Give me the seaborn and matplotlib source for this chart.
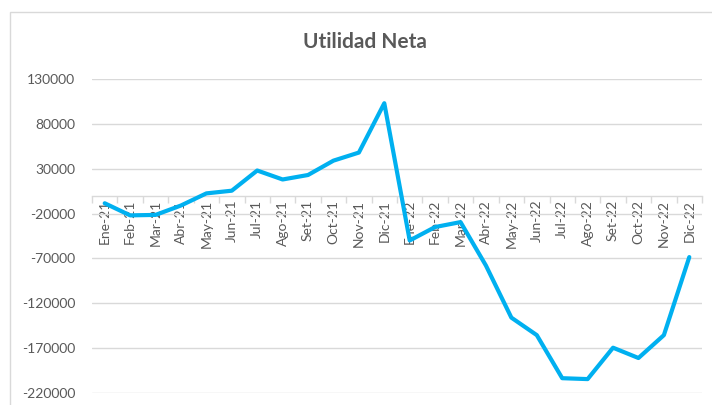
import matplotlib
matplotlib.use("Agg")
import matplotlib.pyplot as plt
import seaborn as sns
import numpy as np
import pandas as pd
from matplotlib.patches import Rectangle
from matplotlib.ticker import FixedLocator

months = ["Ene-21", "Feb-21", "Mar-21", "Abr-21", "May-21", "Jun-21", "Jul-21", "Ago-21",
          "Set-21", "Oct-21", "Nov-21", "Dic-21", "Ene-22", "Feb-22", "Mar-22", "Abr-22",
          "May-22", "Jun-22", "Jul-22", "Ago-22", "Set-22", "Oct-22", "Nov-22", "Dic-22"]
utilidad = [-8500, -22000, -21500, -11000, 2500, 5500, 28000, 18000,
            23000, 39000, 48000, 103000, -50000, -35000, -29500, -78000,
            -136000, -155500, -203500, -204500, -169500, -181000, -155500, -68500]
yticks = [130000, 80000, 30000, -20000, -70000, -120000, -170000, -220000]

df = pd.DataFrame({"idx": np.arange(len(months)), "valor": utilidad})

sns.set_theme(style="white")
plt.rcParams['font.family'] = ['Lato', 'DejaVu Sans']

fig = plt.figure(figsize=(7.12, 4.05), dpi=100)
fig.patch.set_facecolor("white")
fig.patches.append(Rectangle((10/712, -0.1), 1.2, 1 - 12/405 + 0.1, transform=fig.transFigure,
                             fill=False, edgecolor="#D9D9D9", linewidth=1.0))

ax = fig.add_axes([92/712, 1 - 393/405, 610/712, (393 - 79)/405])
sns.lineplot(data=df, x="idx", y="valor", ax=ax, color="#00B0F0", linewidth=3.0, zorder=3)

ax.set_xlim(-0.5, len(months) - 0.5)
ax.set_ylim(-220000, 130000)
ax.set_yticks(yticks)
ax.set_yticklabels([str(v) for v in yticks], fontsize=10, color="#595959")
ax.yaxis.grid(True, color="#D9D9D9", linewidth=1.0)
ax.set_axisbelow(True)

for s in ["top", "right", "left"]:
    ax.spines[s].set_visible(False)
ax.spines["bottom"].set_position(("data", 0))
ax.spines["bottom"].set_color("#D9D9D9")
ax.spines["bottom"].set_linewidth(1.0)
ax.spines["bottom"].set_zorder(2)

ax.set_xticks(np.arange(len(months)))
ax.set_xticklabels(months, rotation=90, fontsize=10, color="#595959")
ax.tick_params(axis="x", which="major", length=0, pad=3)
ax.xaxis.set_minor_locator(FixedLocator(np.arange(-0.5, len(months), 1.0)))
ax.tick_params(axis="x", which="minor", length=5, color="#D9D9D9", width=1.0, direction="out", bottom=True)
ax.tick_params(axis="y", length=0, pad=12)
for lbl in ax.get_xticklabels():
    lbl.set_va("top")
ax.set_xlabel("")
ax.set_ylabel("")

fig.text(365/712, 1 - 42/405, "Utilidad Neta", ha="center", va="center",
         fontsize=15, fontweight="bold", color="#595959")

fig.savefig("out.png", dpi=100, facecolor="white")
